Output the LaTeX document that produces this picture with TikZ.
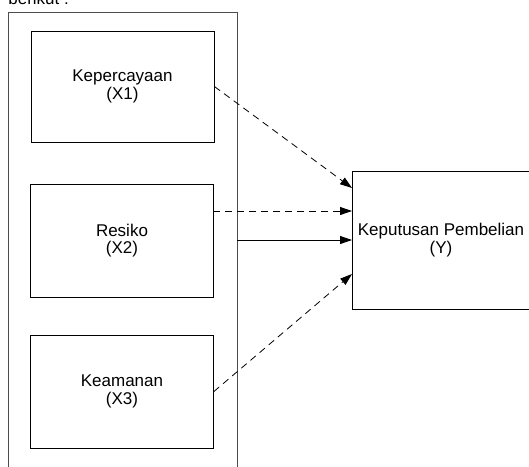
\documentclass[tikz,border=0pt]{standalone}
\usepackage{fontspec}
\setmainfont{Liberation Sans}
\usetikzlibrary{arrows.meta}

\begin{document}
\begin{tikzpicture}
  [x=1pt,y=-1pt,every node/.style={shape=rectangle, draw, align=center,
    line width=0.8pt, font=\fontsize{17}{17.5}\selectfont, inner sep=0pt}]
  \useasboundingbox (0,0) rectangle (529,466);
  \clip (0,0) rectangle (529,466);
  \node[draw=none, anchor=base west] (intro) at (8,4) {berikut :};
  % outer frame, open at the bottom
  \draw[line width=0.8pt, black!70] (8,480) -- (8,12) -- (237,12) -- (237,480);
  \node[minimum width=183pt, minimum height=111pt] (X1) at (122.5,86.5) {Kepercayaan\\(X1)};
  \node[minimum width=183pt, minimum height=113pt] (X2) at (122,240.5) {Resiko\\(X2)};
  \node[minimum width=183pt, minimum height=113pt] (X3) at (122,391.5) {Keamanan\\(X3)};
  \node[minimum width=178pt, minimum height=138pt] (Y) at (441,240) {Keputusan Pembelian\\(Y)};
  \coordinate (x2a) at (213,211);
  \coordinate (frame) at (237,240);
  \coordinate (y1) at (352,188);
  \coordinate (y2) at (352,211);
  \coordinate (y3) at (352,240);
  \coordinate (y4) at (352,274);
  \begin{scope}[line width=0.8pt, -{Triangle[length=12pt,width=8pt]}]
  \foreach \from/\to in {X1.east/y1, x2a/y2, X3.east/y4}
     \draw[dash pattern=on 7pt off 5pt] (\from) -- (\to);
  \draw (frame) -- (y3);
  \end{scope}
\end{tikzpicture}
\end{document}
